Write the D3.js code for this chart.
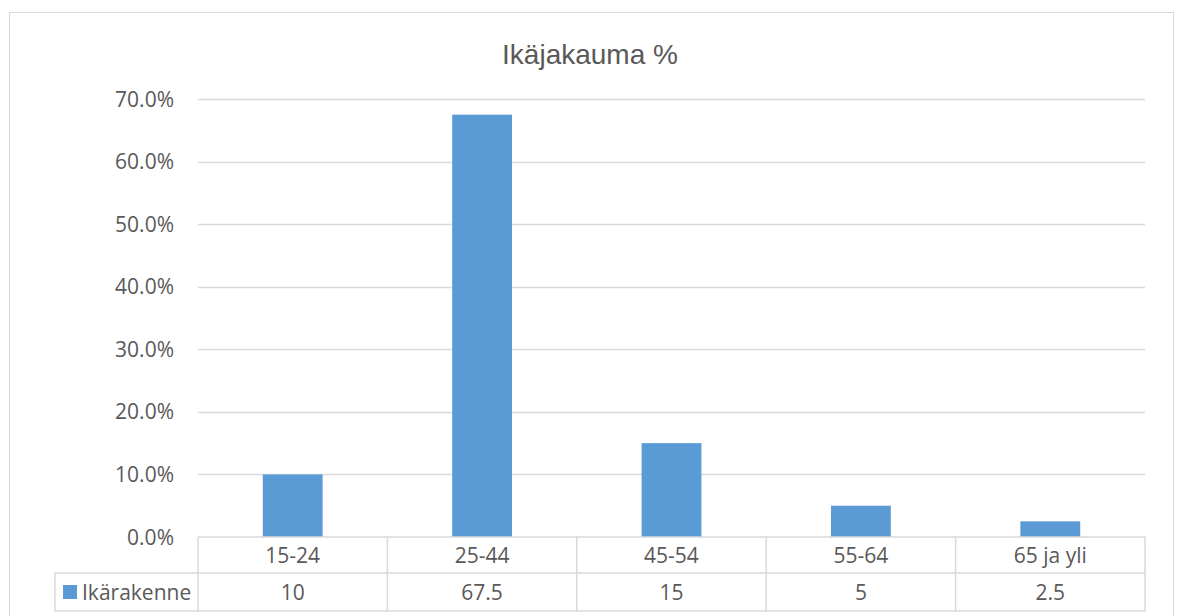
<!DOCTYPE html>
<html lang="fi">
<head>
<meta charset="utf-8">
<script src="https://d3js.org/d3.v7.min.js"></script>
<style>
  body { margin: 0; background: #fff; }
  text { fill: #595959; }
</style>
</head>
<body>
<svg id="chart"></svg>
<script>
// data
const chartTitle = "Ikäjakauma %";
const seriesName = "Ikärakenne";
const categories = ["15-24", "25-44", "45-54", "55-64", "65 ja yli"];
const values = [10, 67.5, 15, 5, 2.5];
const yTicks = [0, 10, 20, 30, 40, 50, 60, 70];

const width = 1177, height = 616;
const plotLeft = 198, plotRight = 1145, plotTop = 99, plotBottom = 537;
const labelSize = "21px";

const svg = d3.select("#chart").attr("width", width).attr("height", height);

// outer chart border
svg.append("rect")
  .attr("x", 9.5).attr("y", 12.5)
  .attr("width", 1164).attr("height", 640)
  .attr("fill", "none").attr("stroke", "#d9d9d9");

svg.append("text")
  .attr("x", 590).attr("y", 64)
  .attr("text-anchor", "middle")
  .style("font-family", "Liberation Sans, Arial, sans-serif")
  .style("font-size", "28px")
  .text(chartTitle);

const x = d3.scaleBand().domain(categories).range([plotLeft, plotRight]).paddingInner(0.684).paddingOuter(0.342);
const xCell = d3.scaleBand().domain(categories).range([plotLeft, plotRight]);
const y = d3.scaleLinear().domain([0, 70]).range([plotBottom, plotTop]);

// gridlines
svg.append("g").selectAll("line")
  .data(yTicks.filter(d => d > 0))
  .join("line")
  .attr("x1", plotLeft).attr("x2", plotRight)
  .attr("y1", d => Math.round(y(d)) + 0.5).attr("y2", d => Math.round(y(d)) + 0.5)
  .attr("stroke", "#d9d9d9").attr("stroke-width", 1.5);

// y axis labels
svg.append("g").selectAll("text")
  .data(yTicks)
  .join("text")
  .attr("x", 174).attr("y", d => y(d))
  .attr("dy", "0.36em")
  .attr("text-anchor", "end")
  .style("font-family", "Open Sans, sans-serif")
  .style("font-size", labelSize)
  .text(d => d3.format(".1f")(d) + "%");

// bars
svg.append("g").selectAll("rect")
  .data(values)
  .join("rect")
  .attr("x", (d, i) => x(categories[i]))
  .attr("width", x.bandwidth())
  .attr("y", d => y(d))
  .attr("height", d => y(0) - y(d))
  .attr("fill", "#5b9bd5");

// data table
const row1 = plotBottom + 36, row2 = plotBottom + 74;
const tbl = svg.append("g")
  .attr("stroke", "#d9d9d9").attr("stroke-width", 1.5).attr("fill", "none");
tbl.append("line").attr("x1", plotLeft).attr("x2", plotRight).attr("y1", plotBottom).attr("y2", plotBottom);
tbl.append("line").attr("x1", 55).attr("x2", plotRight).attr("y1", row1).attr("y2", row1);
tbl.append("line").attr("x1", 55).attr("x2", plotRight).attr("y1", row2).attr("y2", row2);
tbl.append("line").attr("x1", 55).attr("x2", 55).attr("y1", row1).attr("y2", row2);
tbl.selectAll("line.v")
  .data(categories.concat(["end"]))
  .join("line")
  .attr("class", "v")
  .attr("x1", (d, i) => i < categories.length ? xCell(d) : plotRight)
  .attr("x2", (d, i) => i < categories.length ? xCell(d) : plotRight)
  .attr("y1", plotBottom).attr("y2", row2);

const cellFont = sel => sel
  .style("font-family", "Open Sans, sans-serif")
  .style("font-size", labelSize)
  .attr("text-anchor", "middle")
  .attr("dy", "0.36em");

svg.append("g").selectAll("text")
  .data(categories)
  .join("text")
  .attr("x", d => xCell(d) + xCell.bandwidth() / 2)
  .attr("y", plotBottom + 18)
  .call(cellFont)
  .text(d => d);

svg.append("g").selectAll("text")
  .data(values)
  .join("text")
  .attr("x", (d, i) => xCell(categories[i]) + xCell.bandwidth() / 2)
  .attr("y", plotBottom + 55)
  .call(cellFont)
  .text(d => d);

// legend key in the table
svg.append("rect")
  .attr("x", 63).attr("y", 585).attr("width", 14).attr("height", 14)
  .attr("fill", "#5b9bd5");
svg.append("text")
  .attr("x", 82).attr("y", plotBottom + 55)
  .attr("dy", "0.36em")
  .style("font-family", "Open Sans, sans-serif")
  .style("font-size", labelSize)
  .text(seriesName);
</script>
</body>
</html>
